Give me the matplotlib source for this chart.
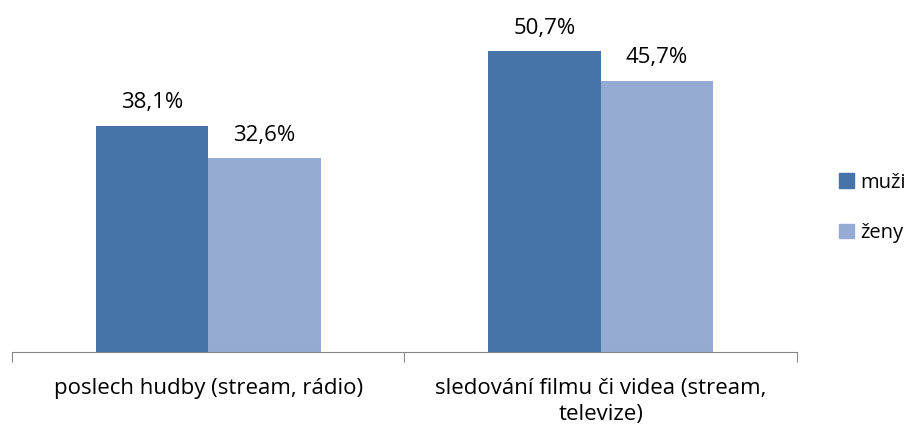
import matplotlib
matplotlib.use("Agg")
from matplotlib import pyplot as plt
from matplotlib.patches import Patch
import numpy as np

categories = ["poslech hudby (stream, rádio)", "sledování filmu či videa (stream,\ntelevize)"]
series = ["muži", "ženy"]
muzi = [38.1, 50.7]
zeny = [32.6, 45.7]
colors = ["#4674A8", "#96ABD3"]

plt.rcParams["font.family"] = ["Open Sans", "DejaVu Sans"]
fs = 16

fig = plt.figure(figsize=(9.15, 4.28), dpi=100)
ax = fig.add_axes([12 / 915, 76 / 428, 785 / 915, 352 / 428])

x = np.arange(len(categories))
w = 0.286
for vals, off, col in [(muzi, -w / 2, colors[0]), (zeny, w / 2, colors[1])]:
    bars = ax.bar(x + off, vals, w, color=col)
    for b, v in zip(bars, vals):
        ax.annotate(("%.1f%%" % v).replace(".", ","),
                    (b.get_x() + b.get_width() / 2, v),
                    xytext=(0, 9), textcoords="offset points",
                    ha="center", va="bottom", fontsize=fs, color="#000000")

ax.set_xlim(-0.5, 1.5)
ax.set_ylim(0, 59.3)
for s in ["top", "right", "left"]:
    ax.spines[s].set_visible(False)
ax.spines["bottom"].set_color("#868686")
ax.set_yticks([])
ax.set_xticks([-0.5, 0.5, 1.5], minor=False)
ax.set_xticklabels([])
ax.tick_params(axis="x", which="major", length=7, color="#868686")
ax.set_xticks(x, minor=True)
ax.set_xticklabels(categories, minor=True, fontsize=fs, linespacing=1.3)
ax.tick_params(axis="x", which="minor", length=0, pad=19)

handles = [Patch(color=c) for c in colors]
fig.legend(handles, series, loc="center left", bbox_to_anchor=(839 / 915, 1 - 208 / 428),
           frameon=False, fontsize=14.5, handlelength=0.75, handleheight=0.75,
           handletextpad=0.3, labelspacing=1.5, borderpad=0, borderaxespad=0)

fig.savefig("out.png", dpi=100)
